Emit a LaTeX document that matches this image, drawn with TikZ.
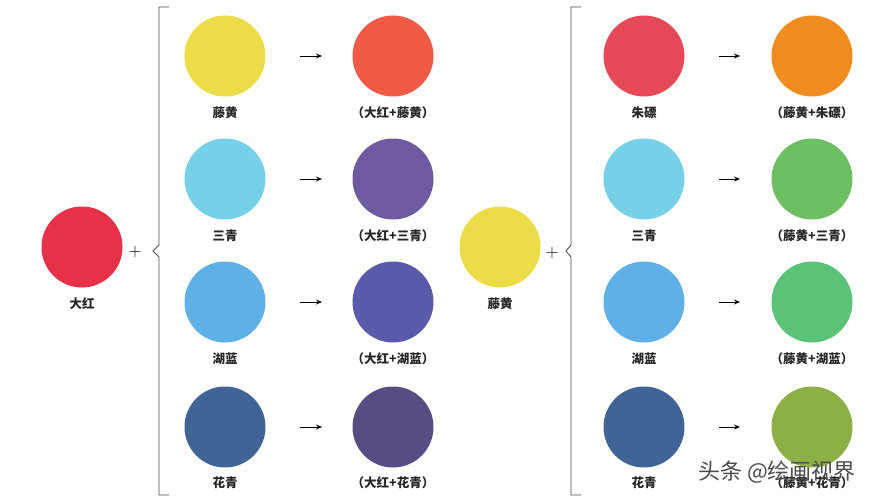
\documentclass[tikz,border=0pt]{standalone}
\usepackage{fontspec}
\newfontfamily\cjk{Noto Sans CJK SC}
\usetikzlibrary{arrows.meta}
\definecolor{dahong}{RGB}{232,48,72}
\definecolor{tenghuang}{RGB}{236,220,72}
\definecolor{sanqing}{RGB}{118,208,232}
\definecolor{hulan}{RGB}{96,176,232}
\definecolor{huaqing}{RGB}{64,100,150}
\definecolor{mixA}{RGB}{240,90,70}
\definecolor{mixB}{RGB}{110,90,160}
\definecolor{mixC}{RGB}{90,90,170}
\definecolor{mixD}{RGB}{88,76,130}
\definecolor{zhubiao}{RGB}{230,72,88}
\definecolor{mixE}{RGB}{240,140,30}
\definecolor{mixF}{RGB}{110,190,100}
\definecolor{mixG}{RGB}{90,195,120}
\definecolor{mixH}{RGB}{140,175,70}
\begin{document}
\begin{tikzpicture}[x=1pt,y=-1pt,
  dot/.style={circle,minimum size=81pt,inner sep=0pt,fill=#1},
  lbl/.style={font=\cjk\bfseries\fontsize{12.5}{14}\selectfont,text=black!85,inner sep=0pt},
  brk/.style={draw=black!70,line width=0.9pt},
  arr/.style={-{Stealth[length=6pt,width=5pt]},line width=0.9pt},
  plussign/.style={font=\fontsize{18}{18}\selectfont,text=black,inner sep=0pt},
  wm/.style={font=\cjk\fontsize{22}{22}\selectfont,text=black!70,inner sep=0pt}]
\useasboundingbox[fill=white] (0,0) rectangle (872,500);

% left group
\node[dot=dahong] (dh) at (82,247) {};
\node[lbl] (dhL) at (82,304) {大红};
\node[plussign] (p1) at (135,252) {+};
\draw[brk] (169,7) -- (159,7) -- (159,245) -- (153,251) -- (159,257) -- (159,495) -- (169,495);

\node[dot=tenghuang] (a1) at (225,56) {};
\node[lbl] (a1L) at (225,113) {藤黄};
\node[dot=mixA] (r1) at (393,56) {};
\node[lbl] (r1L) at (393,113) {（大红+藤黄）};
\coordinate (s1) at (300,56); \coordinate (e1) at (322,56);
\draw[arr] (s1) -- (e1);

\node[dot=sanqing] (a2) at (225,179) {};
\node[lbl] (a2L) at (225,236) {三青};
\node[dot=mixB] (r2) at (393,179) {};
\node[lbl] (r2L) at (393,236) {（大红+三青）};
\coordinate (s2) at (300,179); \coordinate (e2) at (322,179);
\draw[arr] (s2) -- (e2);

\node[dot=hulan] (a3) at (225,302) {};
\node[lbl] (a3L) at (225,359) {湖蓝};
\node[dot=mixC] (r3) at (393,302) {};
\node[lbl] (r3L) at (393,359) {（大红+湖蓝）};
\coordinate (s3) at (300,302); \coordinate (e3) at (322,302);
\draw[arr] (s3) -- (e3);

\node[dot=huaqing] (a4) at (225,427) {};
\node[lbl] (a4L) at (225,483) {花青};
\node[dot=mixD] (r4) at (393,427) {};
\node[lbl] (r4L) at (393,483) {（大红+花青）};
\coordinate (s4) at (300,427); \coordinate (e4) at (322,427);
\draw[arr] (s4) -- (e4);

% right group
\node[dot=tenghuang] (th) at (500,247) {};
\node[lbl] (thL) at (500,304) {藤黄};
\node[plussign] (p2) at (552,253) {+};
\draw[brk] (581,7) -- (571,7) -- (571,245) -- (566,251) -- (571,257) -- (571,495) -- (581,495);

\node[dot=zhubiao] (b1) at (644,56) {};
\node[lbl] (b1L) at (644,113) {朱磦};
\node[dot=mixE] (q1) at (812,56) {};
\node[lbl] (q1L) at (812,113) {（藤黄+朱磦）};
\coordinate (t1) at (719,56); \coordinate (f1) at (740,56);
\draw[arr] (t1) -- (f1);

\node[dot=sanqing] (b2) at (644,179) {};
\node[lbl] (b2L) at (644,236) {三青};
\node[dot=mixF] (q2) at (812,179) {};
\node[lbl] (q2L) at (812,236) {（藤黄+三青）};
\coordinate (t2) at (719,179); \coordinate (f2) at (740,179);
\draw[arr] (t2) -- (f2);

\node[dot=hulan] (b3) at (644,302) {};
\node[lbl] (b3L) at (644,359) {湖蓝};
\node[dot=mixG] (q3) at (812,302) {};
\node[lbl] (q3L) at (812,359) {（藤黄+湖蓝）};
\coordinate (t3) at (719,302); \coordinate (f3) at (740,302);
\draw[arr] (t3) -- (f3);

\node[dot=huaqing] (b4) at (644,427) {};
\node[lbl] (b4L) at (644,483) {花青};
\node[dot=mixH] (q4) at (812,427) {};
\node[lbl] (q4L) at (812,483) {（藤黄+花青）};
\coordinate (t4) at (719,427); \coordinate (f4) at (740,427);
\draw[arr] (t4) -- (f4);

% watermark
\node[wm] (wmk) at (777,472) {头条 @绘画视界};
\end{tikzpicture}
\end{document}
